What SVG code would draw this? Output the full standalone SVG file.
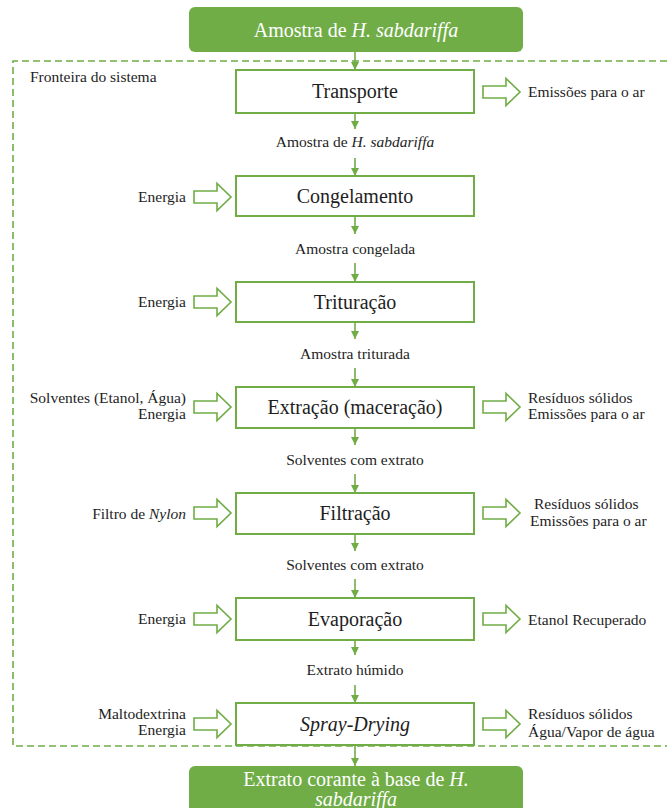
<svg xmlns="http://www.w3.org/2000/svg" width="667" height="808" viewBox="0 0 667 808" font-family="'Liberation Serif', 'Times New Roman', serif">
  <defs>
    <marker id="tip" viewBox="0 0 8 8" refX="8" refY="4" markerWidth="8" markerHeight="8" markerUnits="userSpaceOnUse" orient="auto">
      <path d="M0,0 L8,4 L0,8 z" fill="#70AD47"/>
    </marker>
    <!-- hollow block arrow pointing right, 37 wide, centred on y=0 -->
    <path id="block" d="M0,-6 H23 V-13.5 L37,0 L23,13.5 V6 H0 z"/>
  </defs>
  <style>
    text { font-family: "Liberation Serif", "Times New Roman", serif; fill: #1e1e1e; }
    .lbl { font-size: 15.5px; }
    .ttl { font-size: 20px; text-anchor: middle; }
    .big { font-size: 20px; fill: #ffffff; text-anchor: middle; }
    .mid { text-anchor: middle; }
    .end { text-anchor: end; }
    .step { fill: #ffffff; stroke: #70AD47; stroke-width: 2; }
    .term { fill: #70AD47; }
    .flow { stroke: #70AD47; stroke-width: 1.6; fill: none; marker-end: url(#tip); }
    .blk { fill: #ffffff; stroke: #70AD47; stroke-width: 1.6; }
    .bound { fill: none; stroke: #70AD47; stroke-width: 1.6; stroke-dasharray: 7 4; }
  </style>

  <rect width="667" height="808" fill="#ffffff"/>

  <!-- system boundary -->
  <g id="boundary">
    <path class="bound" d="M667,61 H13 V746 H667"/>
    <text class="lbl" x="30" y="82">Fronteira do sistema</text>
  </g>

  <!-- main flow connectors and intermediate labels -->
  <g id="connectors">
    <line class="flow" x1="355" y1="52" x2="355" y2="70"/>
    <line class="flow" x1="355" y1="113" x2="355" y2="129"/>
    <line class="flow" x1="355" y1="158" x2="355" y2="176"/>
    <line class="flow" x1="355" y1="216" x2="355" y2="234"/>
    <line class="flow" x1="355" y1="263" x2="355" y2="282"/>
    <line class="flow" x1="355" y1="322" x2="355" y2="339"/>
    <line class="flow" x1="355" y1="368" x2="355" y2="387"/>
    <line class="flow" x1="355" y1="428" x2="355" y2="445"/>
    <line class="flow" x1="355" y1="474" x2="355" y2="493"/>
    <line class="flow" x1="355" y1="534" x2="355" y2="551"/>
    <line class="flow" x1="355" y1="579" x2="355" y2="598"/>
    <line class="flow" x1="355" y1="640" x2="355" y2="655"/>
    <line class="flow" x1="355" y1="685" x2="355" y2="703"/>
    <line class="flow" x1="355" y1="745" x2="355" y2="766"/>

    <text class="lbl mid" x="355" y="147">Amostra de <tspan font-style="italic">H. sabdariffa</tspan></text>
    <text class="lbl mid" x="355" y="254">Amostra congelada</text>
    <text class="lbl mid" x="355" y="359">Amostra triturada</text>
    <text class="lbl mid" x="355" y="465">Solventes com extrato</text>
    <text class="lbl mid" x="355" y="570">Solventes com extrato</text>
    <text class="lbl mid" x="355" y="675">Extrato húmido</text>
  </g>

  <!-- input / output block arrows -->
  <g id="side-arrows">
    <use href="#block" class="blk" x="483" y="92"/>
    <use href="#block" class="blk" x="194" y="197"/>
    <use href="#block" class="blk" x="194" y="302"/>
    <use href="#block" class="blk" x="194" y="407"/>
    <use href="#block" class="blk" x="483" y="407"/>
    <use href="#block" class="blk" x="194" y="513"/>
    <use href="#block" class="blk" x="483" y="513"/>
    <use href="#block" class="blk" x="194" y="619"/>
    <use href="#block" class="blk" x="483" y="619"/>
    <use href="#block" class="blk" x="194" y="724"/>
    <use href="#block" class="blk" x="483" y="724"/>
  </g>

  <g id="start">
    <rect class="term" x="189" y="7" width="334" height="45" rx="6"/>
    <text class="big" x="356" y="37">Amostra  de <tspan font-style="italic">H. sabdariffa</tspan></text>
  </g>

  <g id="transporte">
    <rect class="step" x="236" y="70" width="238" height="43"/>
    <text class="ttl" x="355" y="98">Transporte</text>
    <text class="lbl" x="528" y="97">Emissões para o ar</text>
  </g>

  <g id="congelamento">
    <rect class="step" x="236" y="176" width="238" height="40"/>
    <text class="ttl" x="355" y="203">Congelamento</text>
    <text class="lbl end" x="186" y="202">Energia</text>
  </g>

  <g id="trituracao">
    <rect class="step" x="236" y="282" width="238" height="40"/>
    <text class="ttl" x="355" y="309">Trituração</text>
    <text class="lbl end" x="186" y="307">Energia</text>
  </g>

  <g id="extracao">
    <rect class="step" x="236" y="387" width="238" height="41"/>
    <text class="ttl" x="355" y="414">Extração (maceração)</text>
    <text class="lbl end" x="186" y="403">Solventes (Etanol, Água)</text>
    <text class="lbl end" x="186" y="419">Energia</text>
    <text class="lbl" x="528" y="403">Resíduos sólidos</text>
    <text class="lbl" x="528" y="419">Emissões para o ar</text>
  </g>

  <g id="filtracao">
    <rect class="step" x="236" y="493" width="238" height="41"/>
    <text class="ttl" x="355" y="520">Filtração</text>
    <text class="lbl end" x="186" y="519">Filtro de <tspan font-style="italic">Nylon</tspan></text>
    <text class="lbl" x="534" y="509">Resíduos sólidos</text>
    <text class="lbl" x="530" y="526">Emissões para o ar</text>
  </g>

  <g id="evaporacao">
    <rect class="step" x="236" y="598" width="238" height="42"/>
    <text class="ttl" x="355" y="626">Evaporação</text>
    <text class="lbl end" x="186" y="624">Energia</text>
    <text class="lbl" x="528" y="625">Etanol Recuperado</text>
  </g>

  <g id="spray-drying">
    <rect class="step" x="236" y="703" width="238" height="42"/>
    <text class="ttl" x="355" y="731" font-style="italic">Spray-Drying</text>
    <text class="lbl end" x="186" y="719">Maltodextrina</text>
    <text class="lbl end" x="186" y="735">Energia</text>
    <text class="lbl" x="528" y="719">Resíduos sólidos</text>
    <text class="lbl" x="528" y="737">Água/Vapor de água</text>
  </g>

  <g id="product">
    <rect class="term" x="189" y="766" width="334" height="52" rx="6"/>
    <text class="big" x="356" y="786">Extrato corante à base de <tspan font-style="italic">H.</tspan></text>
    <text class="big" x="356" y="806" font-style="italic">sabdariffa</text>
  </g>
</svg>
